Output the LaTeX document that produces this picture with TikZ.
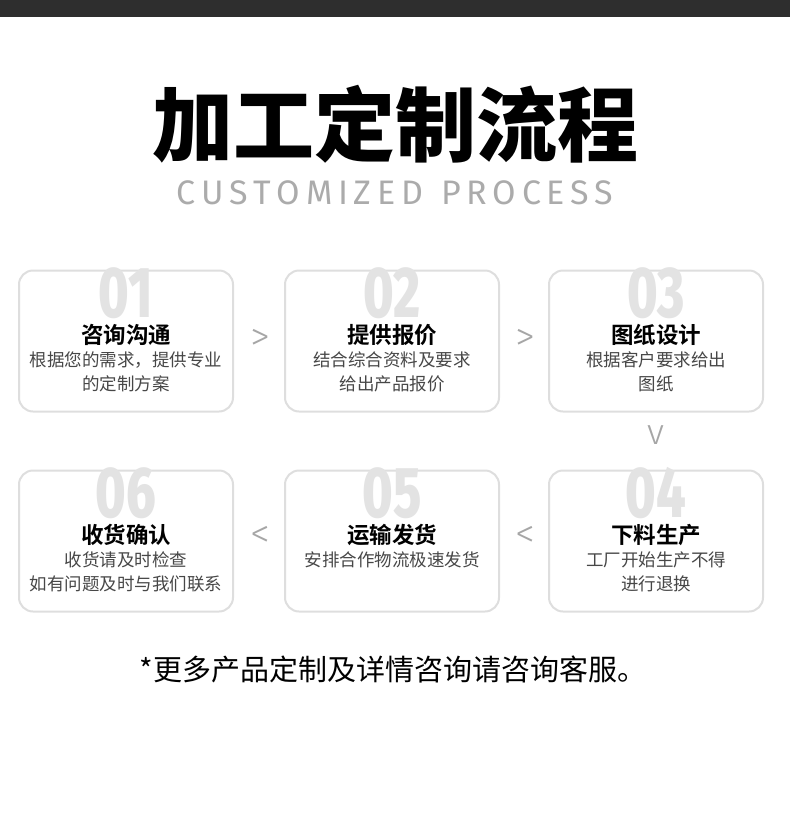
\documentclass[tikz,border=0pt]{standalone}
\usepackage{fontspec}
\setmainfont{Noto Sans CJK SC}
\newfontfamily\cjkb{Noto Sans CJK SC Black}
\newfontfamily\cjkbold{Noto Sans CJK SC Bold}
\newfontfamily\lat{Fira Sans}
\newfontfamily\latl{Fira Sans Light}
\newfontfamily\latb{Fira Sans ExtraBold}
\begin{document}
\begin{tikzpicture}[x=1pt,y=-1pt,
  card/.style={draw=black!13,line width=2pt,rounded corners=14pt,fill=white,minimum width=214pt,minimum height=141pt},
  num/.style={text=black!11,font=\latb\fontsize{72}{72}\selectfont,xscale=0.72,anchor=north,inner sep=0pt,text depth=0pt},
  ttl/.style={font=\cjkbold\fontsize{22.5}{24}\selectfont,text=black},
  dsc/.style={font=\fontsize{17.5}{24}\selectfont,text=black!72,align=center},
  arr/.style={text=black!35,font=\latl\fontsize{40}{40}\selectfont}]
\useasboundingbox (0,0) rectangle (790,833);
\fill[fill=black!82] (0,0) rectangle (790,17);
\node (title) at (395,124) {\cjkb\fontsize{81}{84}\selectfont 加工定制流程};
\node (sub) at (395,193) {\lat\fontsize{34}{36}\selectfont\color{black!33}C\,U\,S\,T\,O\,M\,I\,Z\,E\,D\ \ P\,R\,O\,C\,E\,S\,S};
\foreach \n/\x/\y/\num in {c1/126/341/01,c2/392/341/02,c3/656/341/03,c6/126/541/06,c5/392/541/05,c4/656/541/04}{
  \node[card] (\n) at (\x,\y) {};
  \node[num] (\n n) at (\x,\y-74) {\num};
}
\node[ttl] (t1) at (126,335) {咨询沟通};
\node[dsc,anchor=north] (d1) at (126,348) {根据您的需求，提供专业\\的定制方案};
\node[ttl] (t2) at (392,335) {提供报价};
\node[dsc,anchor=north] (d2) at (392,348) {结合综合资料及要求\\给出产品报价};
\node[ttl] (t3) at (656,335) {图纸设计};
\node[dsc,anchor=north] (d3) at (656,348) {根据客户要求给出\\图纸};
\node[ttl] (t4) at (656,535) {下料生产};
\node[dsc,anchor=north] (d4) at (656,548) {工厂开始生产不得\\进行退换};
\node[ttl] (t5) at (392,535) {运输发货};
\node[dsc,anchor=north] (d5) at (392,548) {安排合作物流极速发货};
\node[ttl] (t6) at (126,535) {收货确认};
\node[dsc,anchor=north] (d6) at (126,548) {收货请及时检查\\如有问题及时与我们联系};
\node[arr] (a1) at (260,340) {>};
\node[arr] (a2) at (525,340) {>};
\node[arr,font=\latl\fontsize{36}{36}\selectfont] (a3) at (656,435) {v};
\node[arr] (a4) at (525,537) {<};
\node[arr] (a5) at (260,537) {<};
\node (foot) at (393,669) {\fontsize{29}{30}\selectfont *更多产品定制及详情咨询请咨询客服。};
\end{tikzpicture}
\end{document}
